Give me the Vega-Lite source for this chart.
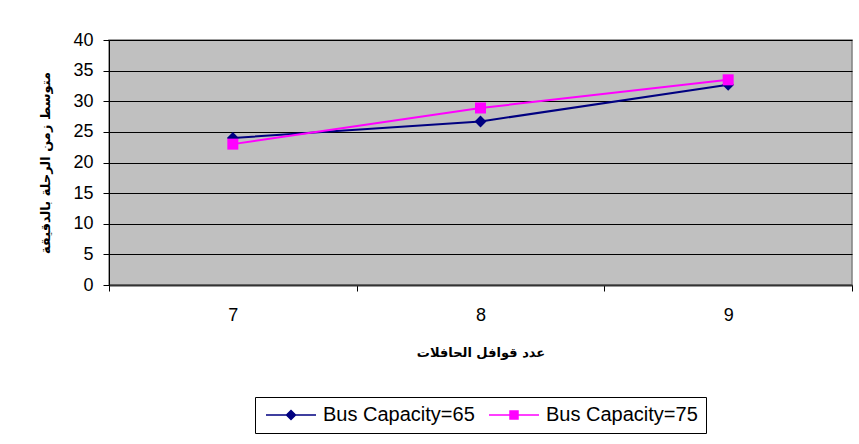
{
  "$schema": "https://vega.github.io/schema/vega-lite/v6.json",
  "width": 743,
  "height": 245,
  "autosize": {"type": "none"},
  "padding": {"left": 109, "top": 40, "right": 7, "bottom": 159},
  "background": "white",
  "config": {
    "view": {"fill": "#C0C0C0", "stroke": "#808080", "strokeWidth": 1.5},
    "axis": {
      "labelFont": "Liberation Sans",
      "labelFontSize": 18,
      "labelColor": "black",
      "titleFont": "DejaVu Sans",
      "titleFontWeight": "bold",
      "titleFontSize": 13,
      "titleColor": "black",
      "domainColor": "black",
      "tickColor": "black",
      "tickSize": 6
    }
  },
  "data": {
    "values": [
      {"n": 7, "t": 24.0, "s": "Bus Capacity=65"},
      {"n": 8, "t": 26.7, "s": "Bus Capacity=65"},
      {"n": 9, "t": 32.7, "s": "Bus Capacity=65"},
      {"n": 7, "t": 23.0, "s": "Bus Capacity=75"},
      {"n": 8, "t": 28.9, "s": "Bus Capacity=75"},
      {"n": 9, "t": 33.5, "s": "Bus Capacity=75"}
    ]
  },
  "encoding": {
    "x": {
      "field": "n",
      "type": "ordinal",
      "scale": {"type": "band", "paddingInner": 0, "paddingOuter": 0},
      "axis": {
        "title": "عدد قوافل الحافلات",
        "labelAngle": 0,
        "tickBand": "extent",
        "labelPadding": 15,
        "titlePadding": 22,
        "domainWidth": 2,
        "domainColor": "#333333",
        "grid": false
      }
    },
    "y": {
      "field": "t",
      "type": "quantitative",
      "scale": {"domain": [0, 40], "nice": false},
      "axis": {
        "title": "متوسط زمن الرحلة بالدقيقة",
        "values": [0, 5, 10, 15, 20, 25, 30, 35, 40],
        "grid": true,
        "gridColor": "black",
        "gridWidth": 1,
        "labelPadding": 10,
        "titlePadding": 20
      }
    },
    "color": {
      "field": "s",
      "type": "nominal",
      "scale": {"domain": ["Bus Capacity=65", "Bus Capacity=75"], "range": ["#000080", "#FF00FF"]},
      "legend": {
        "title": null,
        "orient": "none",
        "direction": "horizontal",
        "legendX": 146,
        "legendY": 357,
        "strokeColor": "black",
        "fillColor": "white",
        "padding": 8,
        "labelFont": "Liberation Sans",
        "labelFontSize": 20,
        "labelColor": "black",
        "labelOffset": 40,
        "columnPadding": 11,
        "symbolSize": 100,
        "symbolStrokeWidth": 1.5,
        "encode": {
          "symbols": {
            "update": {
              "shape": {"signal": "datum.value == 'Bus Capacity=65' ? 'M-1.4,0L8.6,0M3.6,-0.9L4.5,0L3.6,0.9L2.7,0Z' : 'M-1.4,0L8.6,0M2.8,-0.8L4.4,-0.8L4.4,0.8L2.8,0.8Z'"},
              "fill": {"signal": "scale('color', datum.value)"},
              "stroke": {"signal": "scale('color', datum.value)"},
              "strokeWidth": {"value": 1.5},
              "opacity": {"value": 1}
            }
          }
        }
      }
    }
  },
  "layer": [
    {"mark": {"type": "line", "strokeWidth": 2}},
    {
      "transform": [{"filter": "datum.s == 'Bus Capacity=65'"}],
      "mark": {"type": "point", "shape": "diamond", "filled": true, "opacity": 1, "size": 140}
    },
    {
      "transform": [{"filter": "datum.s == 'Bus Capacity=75'"}],
      "mark": {"type": "point", "shape": "square", "filled": true, "opacity": 1, "size": 121}
    }
  ]
}
